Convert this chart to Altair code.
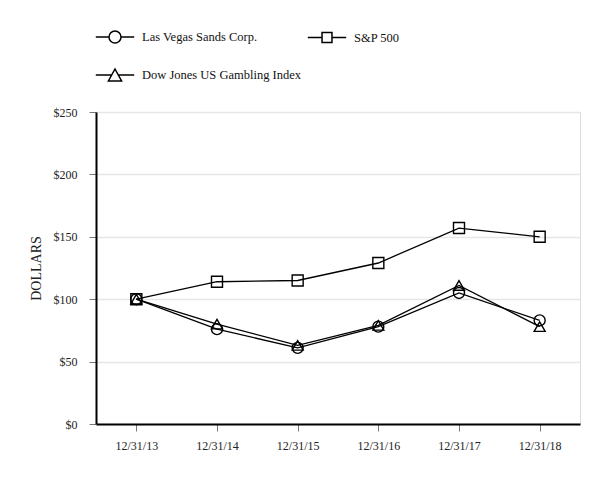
import altair as alt
import pandas as pd

dates = ["12/31/13", "12/31/14", "12/31/15", "12/31/16", "12/31/17", "12/31/18"]
lvs = [100, 76, 61, 78, 105, 83]
sp500 = [100, 114, 115, 129, 157, 150]
djgi = [100, 80, 63, 79, 111, 78]
series_names = ["Las Vegas Sands Corp.", "S&P 500", "Dow Jones US Gambling Index"]
y_ticks = [0, 50, 100, 150, 200, 250]

rows = []
for name, vals in zip(series_names, [lvs, sp500, djgi]):
    for d, v in zip(dates, vals):
        rows.append({"date": d, "value": v, "series": name})
df = pd.DataFrame(rows)

FONT = "Liberation Serif"

x = alt.X(
    "date:O",
    sort=dates,
    scale=alt.Scale(type="point", padding=0.5),
    axis=alt.Axis(
        title=None, labelAngle=0, domainColor="black", domainWidth=2,
        tickColor="#777", tickSize=7, labelFont=FONT, labelFontSize=12,
        labelColor="#222", labelPadding=9, grid=False,
    ),
)
y = alt.Y(
    "value:Q",
    scale=alt.Scale(domain=[0, 250]),
    axis=alt.Axis(
        values=y_ticks, labelExpr="'$' + datum.value", title="DOLLARS",
        domainColor="black", domainWidth=2, tickColor="#777", tickSize=7,
        grid=True, gridColor="#e6e6e6", gridWidth=1.5,
        labelFont=FONT, labelFontSize=12, labelColor="#222", labelPadding=12,
        titleFont=FONT, titleFontSize=14, titleFontWeight="normal",
        titleColor="#222", titlePadding=10,
    ),
)

lines = alt.Chart(df).mark_line(color="black", strokeWidth=1.3).encode(
    x=x, y=y, detail="series:N"
)

points = alt.Chart(df).mark_point(
    filled=False, color="black", size=121, strokeWidth=1.4, opacity=1
).encode(
    x=x, y=y,
    shape=alt.Shape(
        "series:N",
        sort=series_names,
        scale=alt.Scale(domain=series_names, range=["circle", "square", "triangle-up"]),
        legend=None,
    ),
)

legend_paths = [
    "M-3.2,0H-1M1,0H3.2M1,0A1,1,0,1,1,-1,0A1,1,0,1,1,1,0Z",
    "M-3.2,0H-0.83M0.83,0H3.2M-0.83,-0.83H0.83V0.83H-0.83Z",
    "M-3.2,0H-0.55M0.55,0H3.2M0,-1L1.1,1H-1.1Z",
]

legend_layer = alt.Chart(df).mark_point(
    filled=False, color="black", opacity=0
).encode(
    x=x, y=y,
    shape=alt.Shape(
        "series:N",
        sort=series_names,
        scale=alt.Scale(domain=series_names, range=legend_paths),
        legend=alt.Legend(
            title=None, orient="none", legendX=12, legendY=-82,
            direction="horizontal", values=series_names,
            columns=2, columnPadding=2, rowPadding=20,
            labelFont=FONT, labelFontSize=12.5, labelColor="#111", labelLimit=400,
            symbolSize=144, symbolStrokeWidth=1.5, symbolStrokeColor="black",
            symbolOpacity=1, labelOffset=20,
        ),
    ),
)

chart = alt.layer(lines, points, legend_layer).resolve_scale(
    shape="independent"
).properties(
    width=484, height=312,
    autosize=alt.AutoSizeParams(type="none"),
    padding={"left": 88, "top": 104, "right": 26, "bottom": 40},
).configure_view(stroke=None).configure(background="white")

chart.save("out.html", embed_options={"renderer": "svg", "actions": False})
